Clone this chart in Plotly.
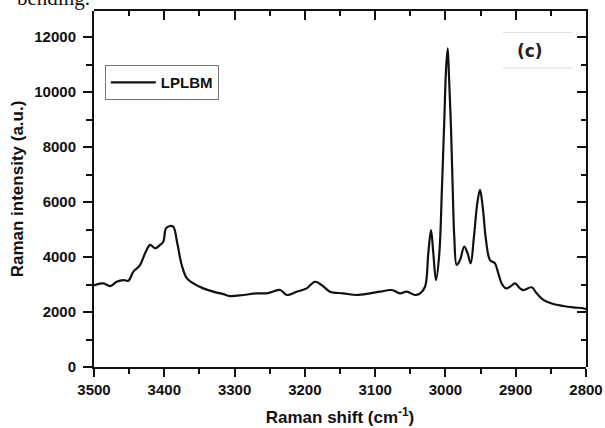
import plotly.graph_objects as go

# Data
wavenumber = [3500, 3498.6, 3486.8, 3477, 3467.7, 3458, 3451, 3444, 3434.5, 3427.4,
              3420, 3413, 3406, 3401.4, 3397.6, 3392, 3387.2, 3381.5, 3375.2, 3368,
              3358.7, 3344.5, 3330.3, 3316, 3306.5, 3287.6, 3268.5, 3254.3, 3235, 3225.8,
              3211.6, 3197.4, 3185.6, 3176, 3164.2, 3145.3, 3126.3, 3107.3, 3093, 3076.4,
              3064.6, 3055, 3043.3, 3036, 3029, 3024.4, 3020.5, 3017.2, 3013.4, 3008.7,
              3004.9, 3001.6, 2999.2, 2996.8, 2994.9, 2992, 2989.7, 2987.4, 2984, 2979.3,
              2973.2, 2968.4, 2964.1, 2959.4, 2954.7, 2950.8, 2947, 2942.3, 2936.6, 2929.5,
              2924.8, 2920, 2913.8, 2908.1, 2901, 2894, 2889.2, 2877.3, 2870.2, 2860.7,
              2846.5, 2832.3, 2818, 2803.8, 2800]
intensity = [2950, 2980, 3040, 2945, 3100, 3160, 3140, 3470, 3710, 4130,
             4440, 4320, 4440, 4560, 5040, 5130, 5100, 4500, 3710, 3230,
             3040, 2860, 2740, 2650, 2580, 2620, 2680, 2680, 2800, 2620,
             2740, 2860, 3100, 2980, 2740, 2680, 2620, 2680, 2740, 2800,
             2680, 2740, 2620, 2680, 2920, 4130, 4980, 4130, 3160, 4130,
             6550, 8980, 10800, 11590, 10560, 8620, 6550, 4740, 3710, 3890,
             4380, 4130, 3770, 4740, 5950, 6440, 5830, 4620, 3890, 3770,
             3410, 3040, 2860, 2920, 3040, 2860, 2800, 2900, 2680, 2440,
             2290, 2220, 2170, 2130, 2100]

series_name = "LPLBM"
panel_label = "(c)"
x_title = "Raman shift (cm<sup>-1</sup>)"
y_title = "Raman intensity (a.u.)"
x_ticks = [3500, 3400, 3300, 3200, 3100, 3000, 2900, 2800]
y_ticks = [0, 2000, 4000, 6000, 8000, 10000, 12000]

x_range = [3500, 2800]
y_range = [0, 12950]

font_family = "Liberation Sans, Arial, sans-serif"
ink = "#111111"

fig = go.Figure()
fig.add_trace(go.Scatter(x=wavenumber, y=intensity, mode="lines", name=series_name,
                         line=dict(color=ink, width=2.2), line_shape="spline"))
# companion (invisible) trace that carries the top/right frame axes
fig.add_trace(go.Scatter(x=wavenumber, y=intensity, mode="lines", xaxis="x2", yaxis="y2",
                         showlegend=False, hoverinfo="skip", opacity=0,
                         line=dict(width=0)))

tick_font = dict(family=font_family, size=15, color=ink, weight="bold")
title_font = dict(family=font_family, size=17, color=ink, weight="bold")

fig.update_layout(
    width=605, height=428,
    margin=dict(l=94, r=19, t=11, b=61, autoexpand=False),
    paper_bgcolor="white", plot_bgcolor="rgba(0,0,0,0)",
    font=dict(family=font_family, color=ink),
    showlegend=True,
    legend=dict(x=0.022, y=0.848, xanchor="left", yanchor="top",
                bgcolor="white", bordercolor="#777777", borderwidth=1,
                font=dict(family=font_family, size=15, color=ink, weight="bold"),
                itemwidth=45, tracegroupgap=0),
    xaxis=dict(range=x_range, tickvals=x_ticks, ticktext=[str(v) for v in x_ticks],
               ticks="outside", ticklen=8, tickwidth=2, tickcolor=ink, tickfont=tick_font,
               showline=True, linecolor=ink, linewidth=2, showgrid=False, zeroline=False,
               automargin=False, domain=[0, 1], anchor="y",
               minor=dict(dtick=50, ticks="outside", ticklen=5, tickwidth=2, tickcolor=ink),
               title=dict(text=x_title, standoff=14, font=title_font)),
    yaxis=dict(range=y_range, tickvals=y_ticks, ticktext=[str(v) for v in y_ticks],
               ticks="outside", ticklen=9, tickwidth=2, tickcolor=ink, tickfont=tick_font,
               ticklabelstandoff=4, automargin=False, domain=[0, 1], anchor="x",
               showline=True, linecolor=ink, linewidth=2, showgrid=False, zeroline=False,
               minor=dict(dtick=1000, ticks="outside", ticklen=6, tickwidth=2, tickcolor=ink),
               title=dict(text=y_title, standoff=6, font=title_font)),
    xaxis2=dict(range=x_range, domain=[0, 1], anchor="y2", side="top", tickvals=x_ticks,
                ticks="inside", showticklabels=False, automargin=False,
                showline=True, linecolor=ink, linewidth=2,
                showgrid=False, zeroline=False, tickcolor=ink, tickwidth=2, ticklen=9,
                minor=dict(dtick=50, ticks="inside", ticklen=5, tickwidth=2, tickcolor=ink)),
    yaxis2=dict(range=y_range, domain=[0, 1], anchor="x2", side="right", tickvals=y_ticks,
                ticks="inside", showticklabels=False, automargin=False,
                showline=True, linecolor=ink, linewidth=2,
                showgrid=False, zeroline=False, tickcolor=ink, tickwidth=2, ticklen=9,
                minor=dict(dtick=1000, ticks="inside", ticklen=5, tickwidth=2, tickcolor=ink)),
)

# panel label with faint top/bottom rules
fig.add_annotation(x=0.886, y=0.888, xref="paper", yref="paper", text=panel_label,
                   showarrow=False, xanchor="center", yanchor="middle",
                   font=dict(family="DejaVu Sans, sans-serif", size=17, color="#222222", weight="bold"))
fig.add_shape(type="line", xref="paper", yref="paper", x0=0.831, x1=0.972, y0=0.94, y1=0.94,
              line=dict(color="#dddddd", width=1))
fig.add_shape(type="line", xref="paper", yref="paper", x0=0.831, x1=0.972, y0=0.84, y1=0.84,
              line=dict(color="#dddddd", width=1))

# cropped caption text from the source page
fig.add_annotation(x=-0.16, y=1.036, xref="paper", yref="paper", text="bending.",
                   showarrow=False, xanchor="left", yanchor="middle",
                   font=dict(family="Liberation Serif, Times New Roman, serif", size=21, color=ink))

fig.write_html("out.html", config={"displayModeBar": False},
               post_script="document.body.style.margin='0';document.body.style.overflow='hidden';")
